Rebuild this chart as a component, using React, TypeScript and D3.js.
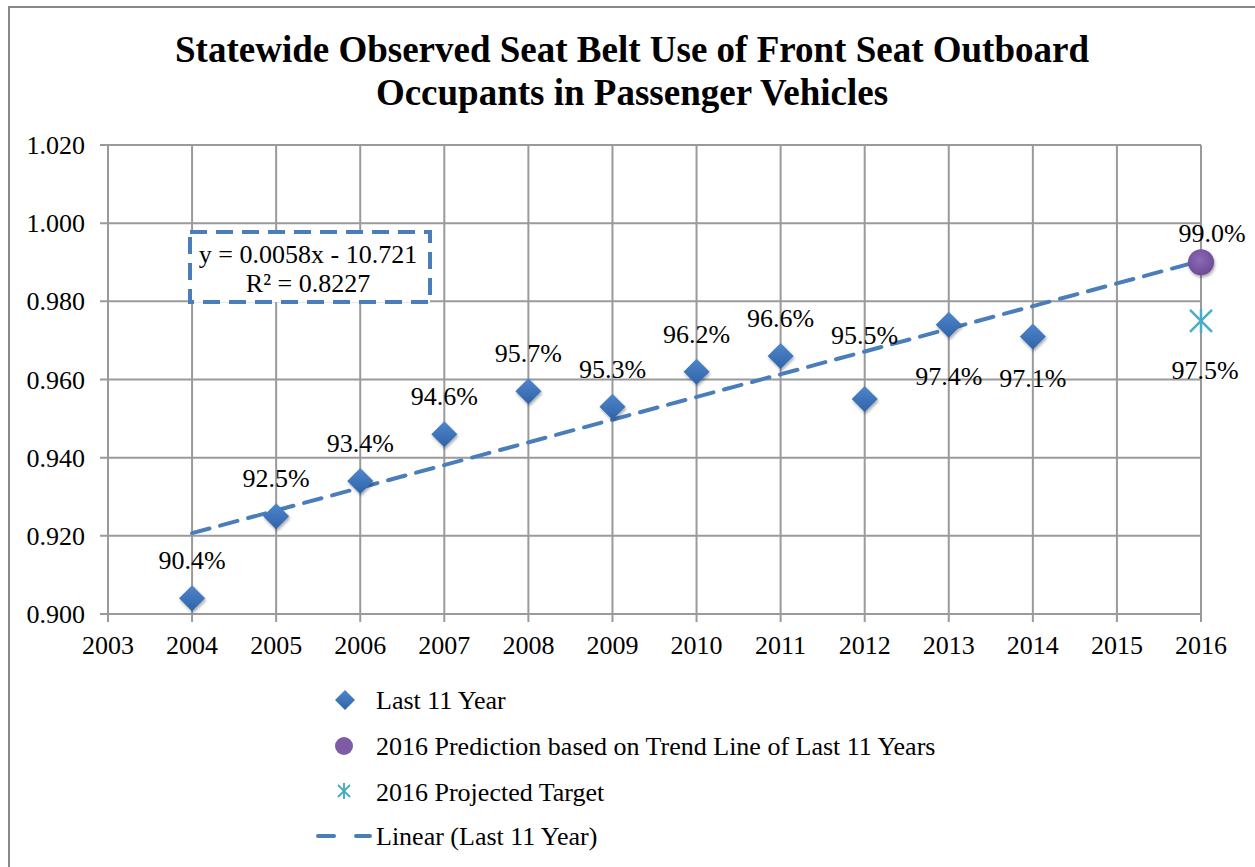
import React from "react";
import * as d3 from "d3";

const years = [2004, 2005, 2006, 2007, 2008, 2009, 2010, 2011, 2012, 2013, 2014];
const beltUse = [0.904, 0.925, 0.934, 0.946, 0.957, 0.953, 0.962, 0.966, 0.955, 0.974, 0.971];
const labelOffsetY = [-29, -29, -29, -29, -29, -29, -29, -29, -55, 60, 50];
const predictionYear = 2016;
const predictionValue = 0.99;
const targetYear = 2016;
const targetValue = 0.975;
const xTicks = [2003, 2004, 2005, 2006, 2007, 2008, 2009, 2010, 2011, 2012, 2013, 2014, 2015, 2016];
const yTicks = [0.9, 0.92, 0.94, 0.96, 0.98, 1.0, 1.02];
const titleLines = [
  "Statewide Observed Seat Belt Use of Front Seat Outboard",
  "Occupants in Passenger Vehicles",
];
const legendLabels = [
  "Last 11 Year",
  "2016 Prediction based on Trend Line of Last 11 Years",
  "2016 Projected Target",
  "Linear (Last 11 Year)",
];
const equationText = ["y = 0.0058x - 10.721", "R² = 0.8227"];

const FONT = "'Liberation Serif', 'Times New Roman', serif";
const BLUE = "#4a7ebb";
const PURPLE = "#7d5ba6";
const CYAN = "#4bacc6";
const GRID = "#9a9a9a";
const FS = 26;

export default function App() {
  const x = d3.scaleLinear().domain([2003, 2016]).range([108, 1201]);
  const y = d3.scaleLinear().domain([0.9, 1.02]).range([614, 145]);

  // least squares trend
  const mx = d3.mean(years)!;
  const my = d3.mean(beltUse)!;
  const sxy = d3.sum(years.map((v, i) => (v - mx) * (beltUse[i] - my)));
  const sxx = d3.sum(years.map((v) => (v - mx) * (v - mx)));
  const slope = sxy / sxx;
  const intercept = my - slope * mx;
  const trendYears = [2004, 2016];
  const trendLine = d3
    .line<number>()
    .x((d) => x(d))
    .y((d) => y(intercept + slope * d))(trendYears);

  const diamond = (cx: number, cy: number, r: number) =>
    `M${cx},${cy - r}L${cx + r},${cy}L${cx},${cy + r}L${cx - r},${cy}Z`;

  const fmt = d3.format(".1%");

  return (
    <svg
      width={1255}
      height={867}
      style={{ position: "absolute", left: 0, top: 0, background: "#fff" }}
      fontFamily={FONT}
    >
      <defs>
        <linearGradient id="dg" x1="0" y1="0" x2="0" y2="1">
          <stop offset="0%" stopColor="#4f86cc" />
          <stop offset="100%" stopColor="#2f63a8" />
        </linearGradient>
        <radialGradient id="pg" cx="0.45" cy="0.4" r="0.6">
          <stop offset="0%" stopColor="#8c6ab6" />
          <stop offset="100%" stopColor="#6c4b96" />
        </radialGradient>
        <filter id="sh" x="-50%" y="-50%" width="200%" height="200%">
          <feDropShadow dx="1" dy="2" stdDeviation="1.5" floodColor="#000" floodOpacity="0.35" />
        </filter>
      </defs>

      {/* outer border */}
      <path d="M9,867V7H1255" fill="none" stroke="#888" strokeWidth={2} />

      {/* title */}
      {titleLines.map((t, i) => (
        <text
          key={t}
          x={632}
          y={62 + i * 43}
          textAnchor="middle"
          fontWeight="bold"
          fontSize={37}
        >
          {t}
        </text>
      ))}

      {/* grid */}
      {yTicks.map((t) => (
        <g key={"y" + t}>
          <line x1={100} x2={x(2016)} y1={y(t)} y2={y(t)} stroke={GRID} strokeWidth={2} />
          <text x={85} y={y(t) + 9} textAnchor="end" fontSize={FS}>
            {d3.format(".3f")(t)}
          </text>
        </g>
      ))}
      {xTicks.map((t) => (
        <g key={"x" + t}>
          <line x1={x(t)} x2={x(t)} y1={y(1.02)} y2={y(0.9) + 8} stroke={GRID} strokeWidth={2} />
          <text x={x(t)} y={y(0.9) + 40} textAnchor="middle" fontSize={FS}>
            {t}
          </text>
        </g>
      ))}

      {/* equation box */}
      <rect
        x={190}
        y={232}
        width={240}
        height={70}
        fill="#fff"
        stroke={BLUE}
        strokeWidth={4}
        strokeDasharray="17,9"
      />
      {equationText.map((t, i) => (
        <text key={t} x={308} y={263 + i * 29} textAnchor="middle" fontSize={FS}>
          {t}
        </text>
      ))}

      {/* trend line */}
      <path
        d={trendLine || ""}
        fill="none"
        stroke={BLUE}
        strokeWidth={4}
        strokeDasharray="18,11"
        strokeLinecap="round"
      />

      {/* diamonds */}
      {years.map((yr, i) => (
        <path
          key={yr}
          d={diamond(x(yr), y(beltUse[i]), 13)}
          fill="url(#dg)"
          filter="url(#sh)"
        />
      ))}
      {years.map((yr, i) => (
        <text
          key={"l" + yr}
          x={x(yr)}
          y={y(beltUse[i]) + labelOffsetY[i]}
          textAnchor="middle"
          fontSize={FS}
        >
          {fmt(beltUse[i])}
        </text>
      ))}

      {/* prediction */}
      <circle
        cx={x(predictionYear)}
        cy={y(predictionValue)}
        r={13}
        fill="url(#pg)"
        filter="url(#sh)"
      />
      <text x={x(predictionYear) + 11} y={y(predictionValue) - 20} textAnchor="middle" fontSize={FS}>
        {fmt(predictionValue)}
      </text>

      {/* target */}
      <g stroke={CYAN} strokeWidth={2.5}>
        <line x1={x(targetYear)} x2={x(targetYear)} y1={y(targetValue) - 12} y2={y(targetValue) + 12} />
        <line x1={x(targetYear) - 11} x2={x(targetYear) + 11} y1={y(targetValue) - 11} y2={y(targetValue) + 11} />
        <line x1={x(targetYear) - 11} x2={x(targetYear) + 11} y1={y(targetValue) + 11} y2={y(targetValue) - 11} />
      </g>
      <text x={x(targetYear) + 4} y={y(targetValue) + 58} textAnchor="middle" fontSize={FS}>
        {fmt(targetValue)}
      </text>

      {/* legend */}
      <g fontSize={FS}>
        <path d={diamond(345, 700, 10)} fill="url(#dg)" />
        <text x={376} y={709}>{legendLabels[0]}</text>
        <circle cx={344} cy={746} r={9} fill={PURPLE} />
        <text x={376} y={755}>{legendLabels[1]}</text>
        <g stroke={CYAN} strokeWidth={2}>
          <line x1={344} x2={344} y1={783} y2={799} />
          <line x1={338} x2={350} y1={785} y2={797} />
          <line x1={338} x2={350} y1={797} y2={785} />
        </g>
        <text x={376} y={801}>{legendLabels[2]}</text>
        <line
          x1={318}
          x2={370}
          y1={836}
          y2={836}
          stroke={BLUE}
          strokeWidth={4}
          strokeDasharray="16,22"
          strokeLinecap="round"
        />
        <text x={376} y={845}>{legendLabels[3]}</text>
      </g>
    </svg>
  );
}
